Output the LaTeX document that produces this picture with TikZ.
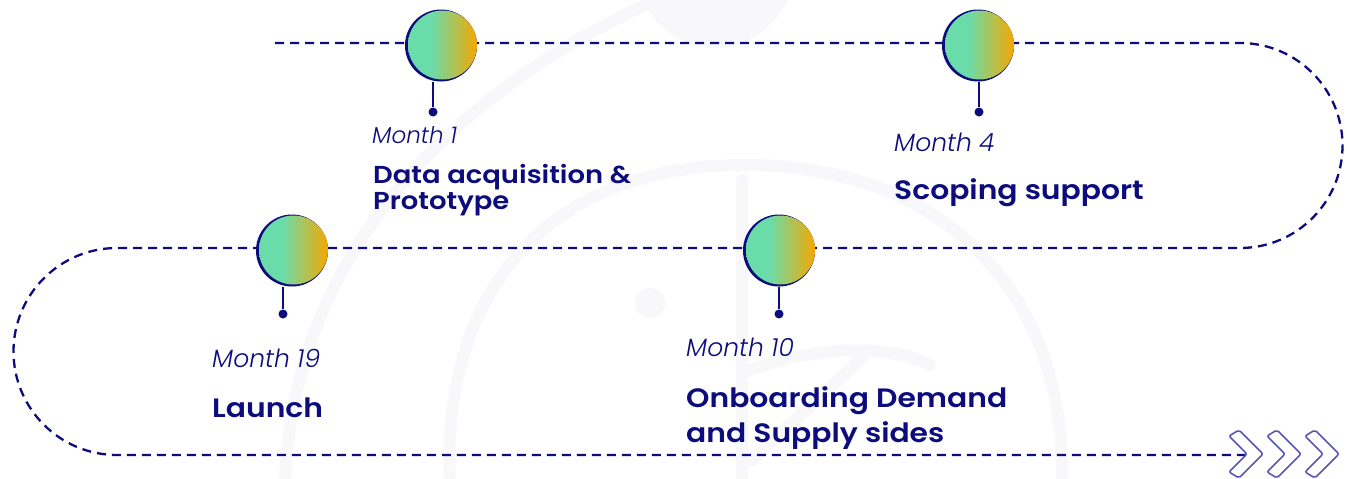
\documentclass[tikz,border=0pt]{standalone}
\usepackage{fontspec}
\setmainfont{Poppins}
\newfontfamily\titlefont{Poppins SemiBold}[FakeStretch=1.12]
\newfontfamily\monthfont{Poppins Light Italic}
\definecolor{navy}{HTML}{0C0C7C}
\definecolor{tealc}{HTML}{6ADCAA}
\definecolor{orangec}{HTML}{F5A800}
\definecolor{chev}{HTML}{5858B4}
\definecolor{wm}{HTML}{F8F8FB}
\pgfdeclarehorizontalshading{bubble}{100bp}{color(0bp)=(tealc); color(25bp)=(tealc); color(42bp)=(tealc); color(75bp)=(orangec); color(100bp)=(orangec)}
\tikzset{
  pathline/.style={draw=navy, line width=2.3pt, dash pattern=on 9pt off 6pt},
  ring/.style={circle, fill=navy, minimum size=72pt, inner sep=0pt},
  ball/.style={circle, shade, shading=bubble, minimum size=69pt, inner sep=0pt},
  stem/.style={draw=navy, line width=1.6pt},
  dotc/.style={circle, fill=navy, minimum size=9pt, inner sep=0pt},
  monthS/.style={anchor=base west, inner sep=0pt, text=navy, font=\monthfont\fontsize{23}{27}\selectfont},
  monthL/.style={anchor=base west, inner sep=0pt, text=navy, font=\monthfont\fontsize{25}{30}\selectfont},
  titleS/.style={anchor=base west, inner sep=0pt, text=navy, font=\titlefont\fontsize{24.5}{29}\selectfont},
  titleL/.style={anchor=base west, inner sep=0pt, text=navy, font=\titlefont\fontsize{26.6}{31}\selectfont},
  chevron/.style={draw=chev, line width=1.6pt, rounded corners=2pt, line join=round},
  wmark/.style={draw=wm, line width=12pt, line cap=round}
}
\begin{document}
\begin{tikzpicture}[x=1pt,y=1pt]
\useasboundingbox (0,0) rectangle (1347,-479);
\fill[white] (0,0) rectangle (1347,-479);
% faint watermark
\begin{scope}
\clip (0,0) rectangle (1347,-479);
\draw[wmark] (285,-485) .. controls (290,-300) and (400,-120) .. (645,-5);
\fill[wm] (640,5) .. controls (670,-65) and (760,-65) .. (790,5) -- cycle;
\draw[wmark] (450,-485) .. controls (440,-300) and (540,-165) .. (745,-165) .. controls (950,-165) and (1068,-300) .. (1062,-485);
\draw[wmark] (742,-180) -- (742,-485);
\draw[wmark] (745,-372) .. controls (800,-350) and (880,-340) .. (930,-365);
\draw[wmark] (862,-358) -- (752,-460);
\fill[wm] (650,-303) circle[radius=15pt];
\end{scope}
% timeline path
\coordinate (p0) at (275,-43);
\coordinate (p1) at (1240,-43);
\coordinate (p3) at (117,-248);
\coordinate (p5) at (1245,-455);
\draw[pathline] (p0) -- (p1) arc[start angle=90,end angle=-90,radius=102.5pt] -- (p3) arc[start angle=90,end angle=270,radius=103.5pt] -- (p5);
% chevrons
\foreach \dx in {0,38,76}{
  \draw[chevron] (1229+\dx,-436) -- (1239+\dx,-430) -- (1263+\dx,-454) -- (1239+\dx,-478) -- (1229+\dx,-472) -- (1247+\dx,-454) -- cycle;
}
% milestones
\node[ring] (c1) at (441,-45.5) {};
\node[ball] (c1b) at (442.5,-45) {};
\node[dotc] (d1) at (433,-112) {};
\draw[stem] (c1.south -| d1) -- (d1);

\node[ring] (c2) at (978,-45.5) {};
\node[ball] (c2b) at (979.5,-45) {};
\node[dotc] (d2) at (979,-112) {};
\draw[stem] (c2.south -| d2) -- (d2);

\node[ring] (c3) at (292,-250.5) {};
\node[ball] (c3b) at (293.5,-250) {};
\node[dotc] (d3) at (283,-314) {};
\draw[stem] (c3.south -| d3) -- (d3);

\node[ring] (c4) at (779,-250.5) {};
\node[ball] (c4b) at (780.5,-250) {};
\node[dotc] (d4) at (779,-314) {};
\draw[stem] (c4.south -| d4) -- (d4);
% labels
\node[monthS] (m1) at (372,-143) {Month 1};
\node[titleS] (t1a) at (373,-183) {Data acquisition \&};
\node[titleS] (t1b) at (373,-209) {Prototype};

\node[monthL] (m2) at (894,-151) {Month 4};
\node[titleL] (t2) at (894,-199) {Scoping support};

\node[monthL] (m3) at (212,-367) {Month 19};
\node[titleL] (t3) at (212,-417) {Launch};

\node[monthL] (m4) at (686,-356) {Month 10};
\node[titleL] (t4a) at (686,-407) {Onboarding Demand};
\node[titleL] (t4b) at (686,-442) {and Supply sides};
\end{tikzpicture}
\end{document}
